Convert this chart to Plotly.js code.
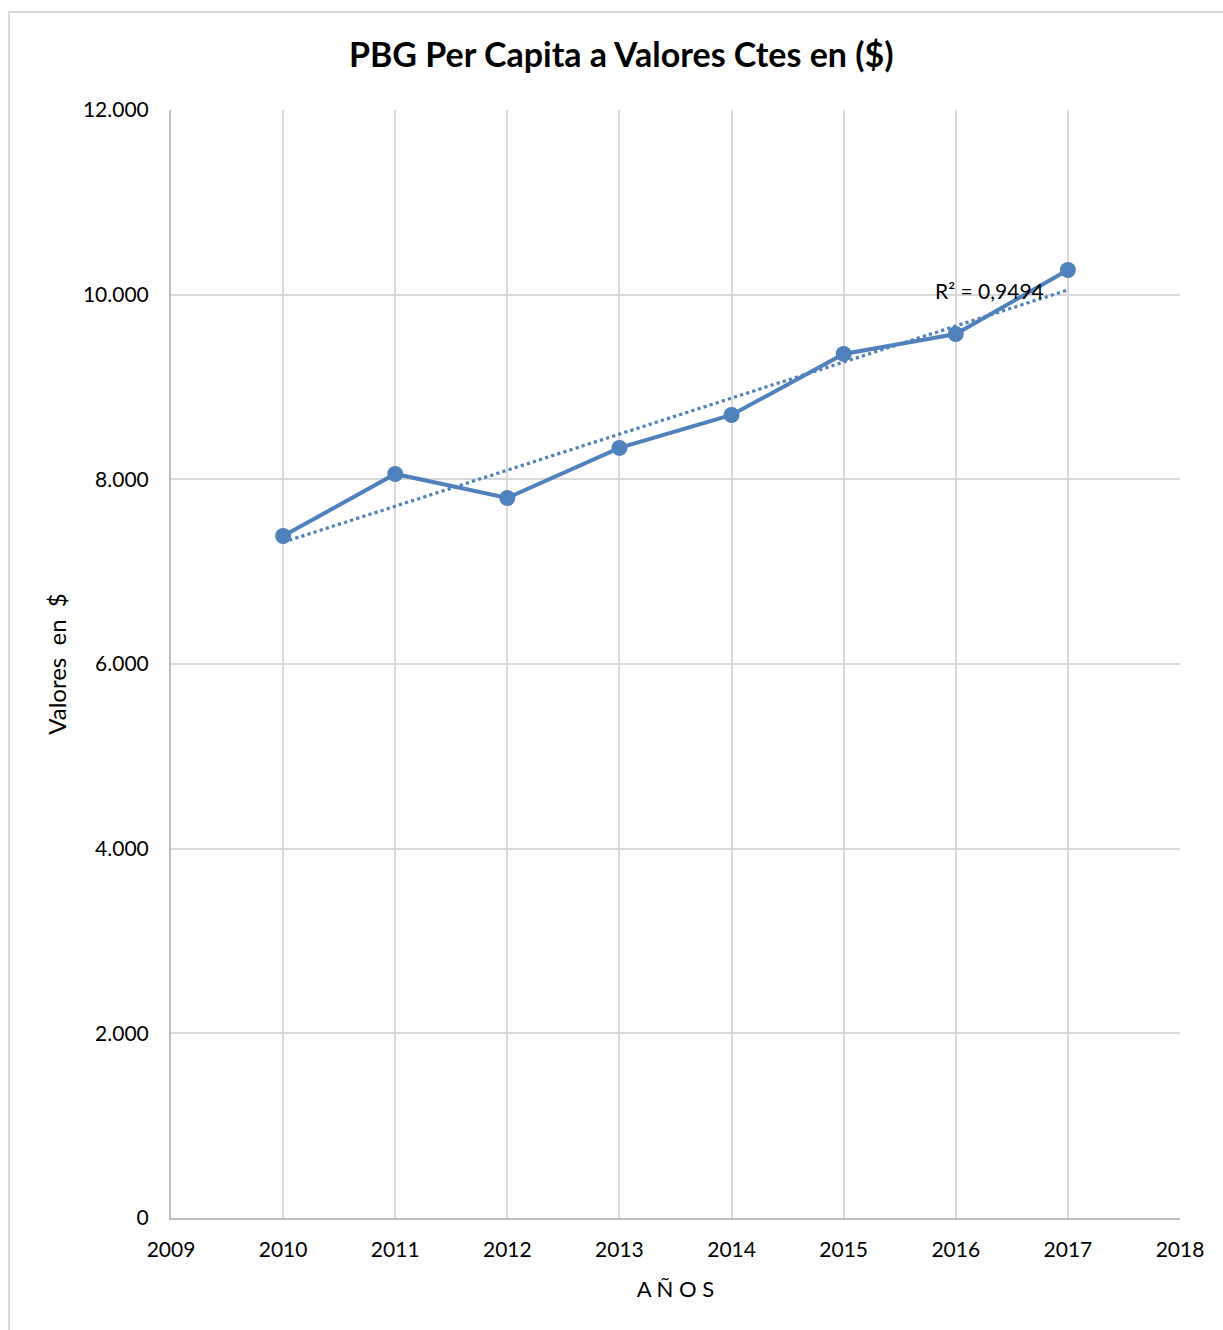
<!DOCTYPE html>
<html>
<head>
<meta charset="utf-8">
<script src="https://cdn.plot.ly/plotly-3.0.1.min.js"></script>
<style>
html,body{margin:0;padding:0;background:#fff;overflow:hidden;}
#wrap{position:relative;width:1223px;height:1330px;overflow:hidden;}
#frame{position:absolute;left:8px;top:11px;width:1240px;height:1340px;border:2px solid #d9d9d9;box-sizing:border-box;pointer-events:none;}
#chart{position:absolute;left:0;top:0;width:1223px;height:1330px;}
</style>
</head>
<body>
<div id="wrap"><div id="frame"></div><div id="chart"></div></div>
<script>
const years = [2010, 2011, 2012, 2013, 2014, 2015, 2016, 2017];
const pbgPerCapita = [7386, 8058, 7798, 8340, 8697, 9358, 9574, 10267];
const r2Label = "R² = 0,9494";
const xTickVals = [2009, 2010, 2011, 2012, 2013, 2014, 2015, 2016, 2017, 2018];
const yTickVals = [0, 2000, 4000, 6000, 8000, 10000, 12000];

// least-squares linear trendline from the data
const n = years.length;
const mx = years.reduce((a,b)=>a+b,0)/n;
const my = pbgPerCapita.reduce((a,b)=>a+b,0)/n;
let sxy=0, sxx=0;
for (let i=0;i<n;i++){ sxy += (years[i]-mx)*(pbgPerCapita[i]-my); sxx += (years[i]-mx)**2; }
const slope = sxy/sxx, icpt = my - slope*mx;
const trendY = years.map(x => icpt + slope*x);

const FONT = "Lato, 'Open Sans', sans-serif";
const blue = "#4f81bd";

const traces = [
  {x: years, y: trendY, mode: "lines", line: {color: blue, width: 3.2, dash: "dot"}, hoverinfo: "skip", showlegend: false},
  {x: years, y: pbgPerCapita, mode: "lines+markers", line: {color: blue, width: 4}, marker: {color: blue, size: 16}, showlegend: false}
];

const layout = {
  width: 1223, height: 1330,
  margin: {l: 171, r: 43, t: 110, b: 112},
  paper_bgcolor: "rgba(0,0,0,0)", plot_bgcolor: "#fff",
  separators: ",.",
  font: {family: FONT, color: "#000", size: 21},
  title: {text: "<b>PBG Per Capita a Valores Ctes en ($)</b>", font: {family: FONT, size: 34, color: "#000"}, xref: "container", x: 0.508, yref: "container", y: 1 - 55/1330, yanchor: "middle"},
  xaxis: {
    range: [2009, 2018], tickvals: xTickVals, ticktext: xTickVals.map(String),
    showgrid: true, gridcolor: "#d9d9d9", gridwidth: 2,
    showline: true, linecolor: "#bfbfbf", linewidth: 2,
    ticks: "outside", ticklen: 12, tickcolor: "rgba(0,0,0,0)",
    zeroline: false, tickfont: {size: 21, family: FONT},
    title: {text: "A Ñ O S", font: {size: 22, family: FONT}, standoff: 21}
  },
  yaxis: {
    range: [0, 12000], tickvals: yTickVals, tickformat: ",d",
    showgrid: true, gridcolor: "#d9d9d9", gridwidth: 2,
    showline: true, linecolor: "#bfbfbf", linewidth: 2,
    ticks: "outside", ticklen: 16, tickcolor: "rgba(0,0,0,0)",
    zeroline: false, tickfont: {size: 21, family: FONT},
    title: {text: "Valores  en  $", font: {size: 24, family: FONT}, standoff: 10}
  },
  annotations: [
    {x: 2016.3, y: 10040, xref: "x", yref: "y", text: r2Label, showarrow: false, font: {size: 21, family: FONT, color: "#000"}, xanchor: "center", yanchor: "middle"}
  ]
};

Plotly.newPlot("chart", traces, layout, {displayModeBar: false, staticPlot: true});
</script>
</body>
</html>
